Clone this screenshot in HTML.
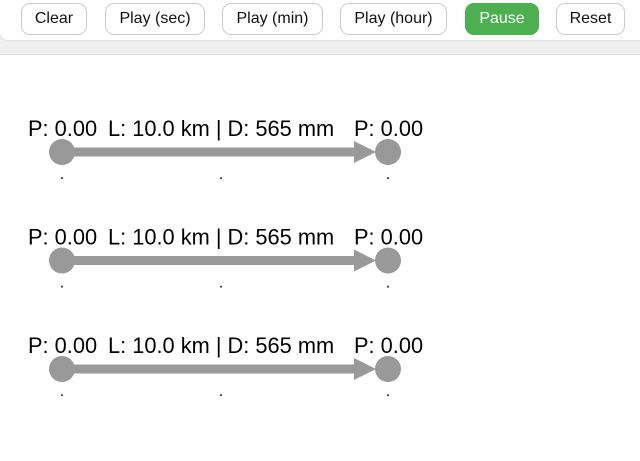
<!DOCTYPE html>
<html><head><meta charset="utf-8"><style>
html,body{margin:0;padding:0;width:640px;height:461px;overflow:hidden;background:#fff;font-family:"Liberation Sans",Arial,sans-serif;}
#bg{position:absolute;left:0;top:0;width:640px;height:54px;background:#f0f0f0;border-bottom:1px solid #ddd;}
#tb{position:absolute;left:0;top:0;width:640px;height:40px;background:#fff;border-bottom-left-radius:8px;box-shadow:0 1px 2px rgba(0,0,0,.08);}
.btn{position:absolute;top:3px;height:32px;box-sizing:border-box;border:1px solid #ccc;border-radius:9px;background:#fff;font-size:16px;line-height:30px;text-align:center;color:#111;}
.btn.on{background:#4caf50;border-color:#4caf50;color:#fff;}
svg{position:absolute;left:0;top:0;}
</style></head><body>
<div id="bg"></div>
<div id="tb">
<div class="btn" style="left:21px;width:66px">Clear</div>
<div class="btn" style="left:105px;width:100px">Play (sec)</div>
<div class="btn" style="left:222px;width:101px">Play (min)</div>
<div class="btn" style="left:340px;width:107px">Play (hour)</div>
<div class="btn on" style="left:465px;width:74px">Pause</div>
<div class="btn" style="left:556px;width:69px">Reset</div>
</div>
<svg id="net" width="640" height="461"></svg>
<script>
const pipeRows=[0,1,2];
const startPressure=[0.00,0.00,0.00];
const endPressure=[0.00,0.00,0.00];
const lengthKm=[10.0,10.0,10.0];
const diameterMm=[565,565,565];
const NS="http://www.w3.org/2000/svg";
const svg=document.getElementById('net');
function rowY(i){return 152+i*108.5;}
function mk(t,a){const e=document.createElementNS(NS,t);for(const k in a)e.setAttribute(k,a[k]);svg.appendChild(e);return e;}
pipeRows.forEach(i=>{
 const y=rowY(i);
 let e=mk('line',{x1:62,y1:y,x2:356,y2:y,stroke:'#999','stroke-width':9});
 
 
 e=mk('polygon',{points:`354,${y-11} 376,${y} 354,${y+11}`,fill:'#999'});
 
 
 e=mk('circle',{cx:62,cy:y,r:13,fill:'#999'});
 
 
 e=mk('circle',{cx:388,cy:y,r:13,fill:'#999'});
 
 
 const tA={y:y-16,'font-size':21.8,fill:'#000','font-family':'Liberation Sans, Arial, sans-serif'};
 e=mk('text',Object.assign({x:28},tA));e.textContent='P: '+startPressure[i].toFixed(2);
 
 
 e=mk('text',Object.assign({x:108},tA));e.textContent='L: '+lengthKm[i].toFixed(1)+' km | D: '+diameterMm[i]+' mm';
 
 
 e=mk('text',Object.assign({x:354},tA));e.textContent='P: '+endPressure[i].toFixed(2);
 
 
 [62,221,388].forEach((x,j)=>{
  const d=mk('text',{x:x,y:y+27,'font-size':16,'text-anchor':'middle',fill:'#000'});d.textContent='.';
  
  
 });
});
</script>
</body></html>
